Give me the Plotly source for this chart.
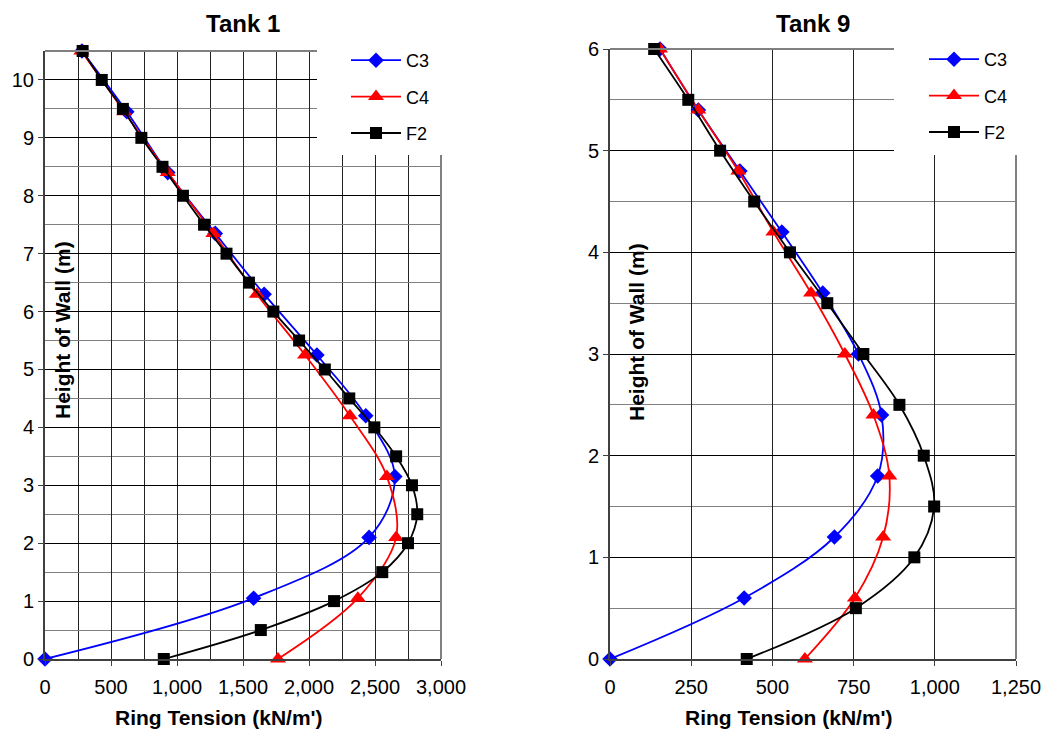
import plotly.graph_objects as go

# ---------------- data ----------------
# Tank 1
t1_c3_h = [0, 1.05, 2.1, 3.15, 4.2, 5.25, 6.3, 7.35, 8.4, 9.45, 10.5]
t1_c3_t = [0, 1580, 2455, 2650, 2430, 2060, 1660, 1290, 930, 620, 280]
t1_c4_h = [0, 1.05, 2.1, 3.15, 4.2, 5.25, 6.3, 7.35, 8.4, 9.45, 10.5]
t1_c4_t = [1765, 2370, 2660, 2590, 2310, 1970, 1605, 1275, 930, 600, 275]
t1_f2_h = [0, 0.5, 1, 1.5, 2, 2.5, 3, 3.5, 4, 4.5, 5, 5.5, 6, 6.5, 7, 7.5, 8, 8.5, 9, 9.5, 10, 10.5]
t1_f2_t = [900, 1635, 2190, 2555, 2750, 2820, 2780, 2660, 2495, 2305, 2120, 1925, 1730,
           1545, 1375, 1205, 1045, 890, 730, 590, 430, 285]
# Tank 9
t9_c3_h = [0, 0.6, 1.2, 1.8, 2.4, 3.0, 3.6, 4.2, 4.8, 5.4, 6.0]
t9_c3_t = [0, 413, 691, 824, 836, 765, 655, 529, 400, 272, 154]
t9_c4_h = [0, 0.6, 1.2, 1.8, 2.4, 3.0, 3.6, 4.2, 4.8, 5.4, 6.0]
t9_c4_t = [600, 754, 841, 860, 811, 723, 619, 503, 395, 272, 154]
t9_f2_h = [0, 0.5, 1, 1.5, 2, 2.5, 3, 3.5, 4, 4.5, 5, 5.5, 6]
t9_f2_t = [421, 757, 937, 998, 966, 891, 780, 669, 554, 444, 339, 241, 136]

series_names = ["C3", "C4", "F2"]
titles = ["Tank 1", "Tank 9"]
x_title = "Ring Tension (kN/m')"
y_title = "Height of Wall (m)"

# ---------------- style ----------------
FONT = "Liberation Sans, Arial, sans-serif"
OFF = 8                      # default page body margin
W, H = 1051 - OFF, 734 - OFF
colors = {"C3": "#0000FF", "C4": "#FF0000", "F2": "#000000"}
symbols = {"C3": "diamond", "C4": "triangle-up", "F2": "square"}
msizes = {"C3": 12, "C4": 14, "F2": 12}

# plot area pixel boxes (screen coordinates)
box1 = dict(l=45, r=441, t=51, b=659)
box9 = dict(l=610, r=1016, t=49, b=659)

def px_x(p):
    return (p - OFF) / W

def px_y(p):
    return 1 - (p - OFF) / H

fig = go.Figure()

def add(name, xs, ys, xa, ya, legend):
    fig.add_trace(go.Scatter(
        x=xs, y=ys, name=name, mode="lines+markers",
        line=dict(color=colors[name], width=1.8, shape="spline", smoothing=1.0),
        marker=dict(symbol=symbols[name], size=msizes[name], color=colors[name]),
        xaxis=xa, yaxis=ya, legend=legend, legendgroup=legend + name,
        cliponaxis=False,
    ))

add("C3", t1_c3_t, t1_c3_h, "x", "y", "legend")
add("C4", t1_c4_t, t1_c4_h, "x", "y", "legend")
add("F2", t1_f2_t, t1_f2_h, "x", "y", "legend")
add("C3", t9_c3_t, t9_c3_h, "x2", "y2", "legend2")
add("C4", t9_c4_t, t9_c4_h, "x2", "y2", "legend2")
add("F2", t9_f2_t, t9_f2_h, "x2", "y2", "legend2")

tickfont = dict(family=FONT, size=20, color="#000")

def xaxis(box, rng, dtick, minor):
    d = dict(
        domain=[px_x(box["l"]), px_x(box["r"])], range=rng,
        dtick=dtick, tick0=0, tickformat=",d",
        showgrid=True, gridcolor="#222", gridwidth=1,
        showline=True, linecolor="#404040", linewidth=2,
        ticks="outside", ticklen=5, tickcolor="#404040",
        tickfont=tickfont, zeroline=False, fixedrange=True,
        ticklabelstandoff=4, automargin=False,
    )
    if minor:
        d["minor"] = dict(dtick=minor, showgrid=True, gridcolor="#222", gridwidth=1)
    return d

def yaxis(box, rng, anchor):
    return dict(
        domain=[px_y(box["b"]), px_y(box["t"])], range=rng,
        dtick=1, tick0=0,
        showgrid=True, gridcolor="#000", gridwidth=1,
        minor=dict(dtick=0.5, showgrid=True, gridcolor="#808080", gridwidth=1),
        showline=True, linecolor="#404040", linewidth=2,
        ticks="outside", ticklen=5, tickcolor="#404040",
        tickfont=tickfont, zeroline=False, anchor=anchor, fixedrange=True,
        automargin=False,
    )

x1 = xaxis(box1, [0, 3000], 500, 250)
x1["anchor"] = "y"
x2 = xaxis(box9, [0, 1250], 250, None)
x2["anchor"] = "y2"

shapes = []
for box, cover_l in ((box1, 317), (box9, 894)):
    # grey top / right borders
    shapes.append(dict(type="line", xref="paper", yref="paper",
                       x0=px_x(box["l"]), x1=px_x(box["r"]), y0=px_y(box["t"]), y1=px_y(box["t"]),
                       line=dict(color="#808080", width=2), layer="above"))
    shapes.append(dict(type="line", xref="paper", yref="paper",
                       x0=px_x(box["r"]), x1=px_x(box["r"]), y0=px_y(box["t"]), y1=px_y(box["b"]),
                       line=dict(color="#808080", width=2), layer="above"))
    # white legend box
    shapes.append(dict(type="rect", xref="paper", yref="paper",
                       x0=px_x(cover_l), x1=px_x(box["r"] + 4), y0=px_y(155), y1=px_y(box["t"] - 3),
                       fillcolor="white", line=dict(width=0), layer="above"))

annotations = []
for box, title, ytx, yty in ((box1, titles[0], 63, 330), (box9, titles[1], 636, 332)):
    cx = (box["l"] + box["r"]) / 2
    annotations.append(dict(text="<b>%s</b>" % title, x=px_x(cx), y=px_y(23), xref="paper", yref="paper",
                            showarrow=False, xanchor="center", yanchor="middle",
                            font=dict(family=FONT, size=24, color="#000")))
    annotations.append(dict(text="<b>%s</b>" % x_title, x=px_x(cx - 24), y=px_y(717), xref="paper", yref="paper",
                            showarrow=False, xanchor="center", yanchor="middle",
                            font=dict(family=FONT, size=21, color="#000")))
    annotations.append(dict(text="<b>%s</b>" % y_title, x=px_x(ytx), y=px_y(yty), xref="paper", yref="paper",
                            showarrow=False, xanchor="center", yanchor="middle", textangle=-90,
                            font=dict(family=FONT, size=21, color="#000")))

legend_common = dict(
    bgcolor="rgba(0,0,0,0)", borderwidth=0, xanchor="left", yanchor="top",
    font=dict(family=FONT, size=18, color="#000"), itemwidth=50,
    traceorder="grouped", tracegroupgap=10, itemclick=False, itemdoubleclick=False,
)

fig.update_layout(
    width=W, height=H,
    margin=dict(l=0, r=0, t=0, b=0, autoexpand=False),
    paper_bgcolor="white", plot_bgcolor="white",
    showlegend=True,
    xaxis=x1, yaxis=yaxis(box1, [0, 10.5], "x"),
    xaxis2=x2, yaxis2=yaxis(box9, [0, 6], "x2"),
    legend=dict(x=px_x(346), y=px_y(42), **legend_common),
    legend2=dict(x=px_x(924), y=px_y(41), **legend_common),
    shapes=shapes, annotations=annotations,
    font=dict(family=FONT),
)

fig.write_html("out.html")
